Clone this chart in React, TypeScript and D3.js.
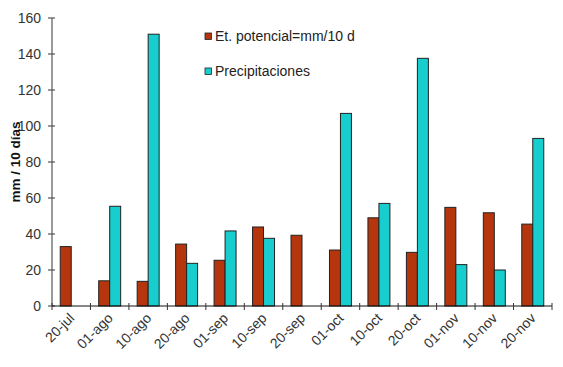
import React from "react";
import * as d3 from "d3";

const categories = ["20-jul","01-ago","10-ago","20-ago","01-sep","10-sep","20-sep","01-oct","10-oct","20-oct","01-nov","10-nov","20-nov"];
const etPotencial = [33, 14, 13.7, 34.4, 25.4, 43.9, 39.3, 31.1, 49, 29.8, 54.8, 51.8, 45.5];
const precipitaciones = [0, 55.4, 151, 23.7, 41.7, 37.6, 0, 107, 57, 137.6, 23, 20, 93.1];
const yTicks = [0, 20, 40, 60, 80, 100, 120, 140, 160];
const seriesNames = ["Et. potencial=mm/10 d", "Precipitaciones"];
const colors = ["#B5360C", "#17CDCD"];

export default function App() {
  const W = 563, H = 367;
  const x0 = 52, x1 = 552, yTop = 18, yBot = 306;
  const x = d3.scaleBand<string>().domain(categories).range([x0, x1]).paddingInner(0).paddingOuter(0);
  const y = d3.scaleLinear().domain([0, 160]).range([yBot, yTop]);
  const bw = x.bandwidth();
  const barW = bw * 2 / 7; // gap width 75%
  const gapL = (bw - 2 * barW) / 2;
  const font = "Liberation Sans, Arial, sans-serif";
  const series = [etPotencial, precipitaciones];
  const tickPositions = categories.map((c) => x(c) as number).concat([x1]);

  return (
    <svg width={W} height={H} style={{ position: "absolute", left: 0, top: 0, background: "#fff" }} fontFamily={font}>
      {categories.map((c, i) => (
        <g key={c}>
          {series.map((s, k) =>
            s[i] > 0 ? (
              <rect
                key={k}
                x={(x(c) as number) + gapL + k * barW}
                y={y(s[i])}
                width={barW}
                height={yBot - y(s[i])}
                fill={colors[k]}
                stroke="#222"
                strokeWidth={1}
              />
            ) : null
          )}
        </g>
      ))}
      <line x1={x0} x2={x0} y1={yTop} y2={yBot} stroke="#555" strokeWidth={1.2} />
      {yTicks.map((t) => (
        <g key={t}>
          <line x1={x0 - 4} x2={x0 + 3} y1={y(t)} y2={y(t)} stroke="#555" strokeWidth={1.2} />
          <text x={x0 - 11} y={y(t)} dy="0.36em" textAnchor="end" fontSize={14} fill="#333">{t}</text>
        </g>
      ))}
      <line x1={x0} x2={x1} y1={yBot} y2={yBot} stroke="#111" strokeWidth={1.2} />
      {tickPositions.map((p, i) => (
        <line key={i} x1={p} x2={p} y1={yBot - 3} y2={yBot + 4} stroke="#333" strokeWidth={1} />
      ))}
      {categories.map((c) => {
        const cx = (x(c) as number) + bw / 2 + 4;
        const cy = 319;
        return (
          <text key={c} x={cx} y={cy} textAnchor="end" fontSize={14} fill="#333" transform={`rotate(-45, ${cx}, ${cy})`}>{c}</text>
        );
      })}
      <text transform={`translate(20, 162) rotate(-90)`} textAnchor="middle" fontSize={13.5} fontWeight="bold" fill="#111">mm / 10 días</text>
      {seriesNames.map((n, k) => (
        <g key={n} transform={`translate(205, ${33 + k * 35})`}>
          <rect x={0} y={0} width={6.5} height={6.5} fill={colors[k]} stroke="#222" strokeWidth={0.8} />
          <text x={10} y={8} fontSize={14} fill="#222">{n}</text>
        </g>
      ))}
    </svg>
  );
}
